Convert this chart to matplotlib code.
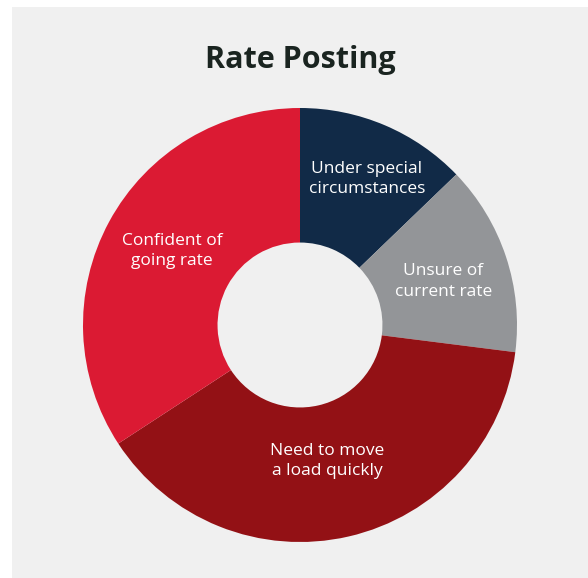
import numpy as np
import matplotlib.pyplot as plt
from matplotlib.patches import Rectangle

labels = ['Under special\ncircumstances', 'Unsure of\ncurrent rate',
          'Need to move\na load quickly', 'Confident of\ngoing rate']
shares = [12.8, 14.2, 38.8, 34.2]
colors = ['#112a47', '#939598', '#931115', '#db1a33']

# label placement inside each wedge (fraction of outer radius)
label_r = [0.74, 0.69, 0.64, 0.68]

W, H = 588, 578
fig = plt.figure(figsize=(W / 100, H / 100), dpi=100)
fig.patch.set_facecolor('white')
# light gray panel behind everything
fig.patches.append(Rectangle((12 / W, -0.01), 1 - 12 / W + 0.01, (H - 7) / H + 0.01,
                             transform=fig.transFigure, facecolor='#f0f0f0',
                             edgecolor='none', zorder=-5))

fig.text(300 / W, 1 - 60 / H, 'Rate Posting', ha='center', va='center',
         fontsize=22, fontweight='bold', family='Open Sans', color='#1a2420')

# pie centre at (300, 325) px, outer radius 217 px
r_px = 217
lim = 1.1
side = 2 * lim * r_px
cx, cy = 300, H - 325
ax = fig.add_axes([(cx - side / 2) / W, (cy - side / 2) / H, side / W, side / H])
ax.set_zorder(2)
ax.patch.set_visible(False)

wedges, _ = ax.pie(shares, colors=colors, startangle=90,
                   counterclock=False, radius=1,
                   wedgeprops=dict(width=0.62, linewidth=0))
for w, lab, rr in zip(wedges, labels, label_r):
    mid = np.deg2rad((w.theta1 + w.theta2) / 2 - 1.5)
    ax.text(rr * np.cos(mid), rr * np.sin(mid), lab, ha='center', va='center',
            color='white', fontsize=12.5, family='Open Sans', linespacing=1.35)
ax.set_xlim(-lim, lim)
ax.set_ylim(-lim, lim)
ax.set_aspect('equal')
ax.axis('off')

fig.savefig('out.png', dpi=100, facecolor=fig.get_facecolor())
